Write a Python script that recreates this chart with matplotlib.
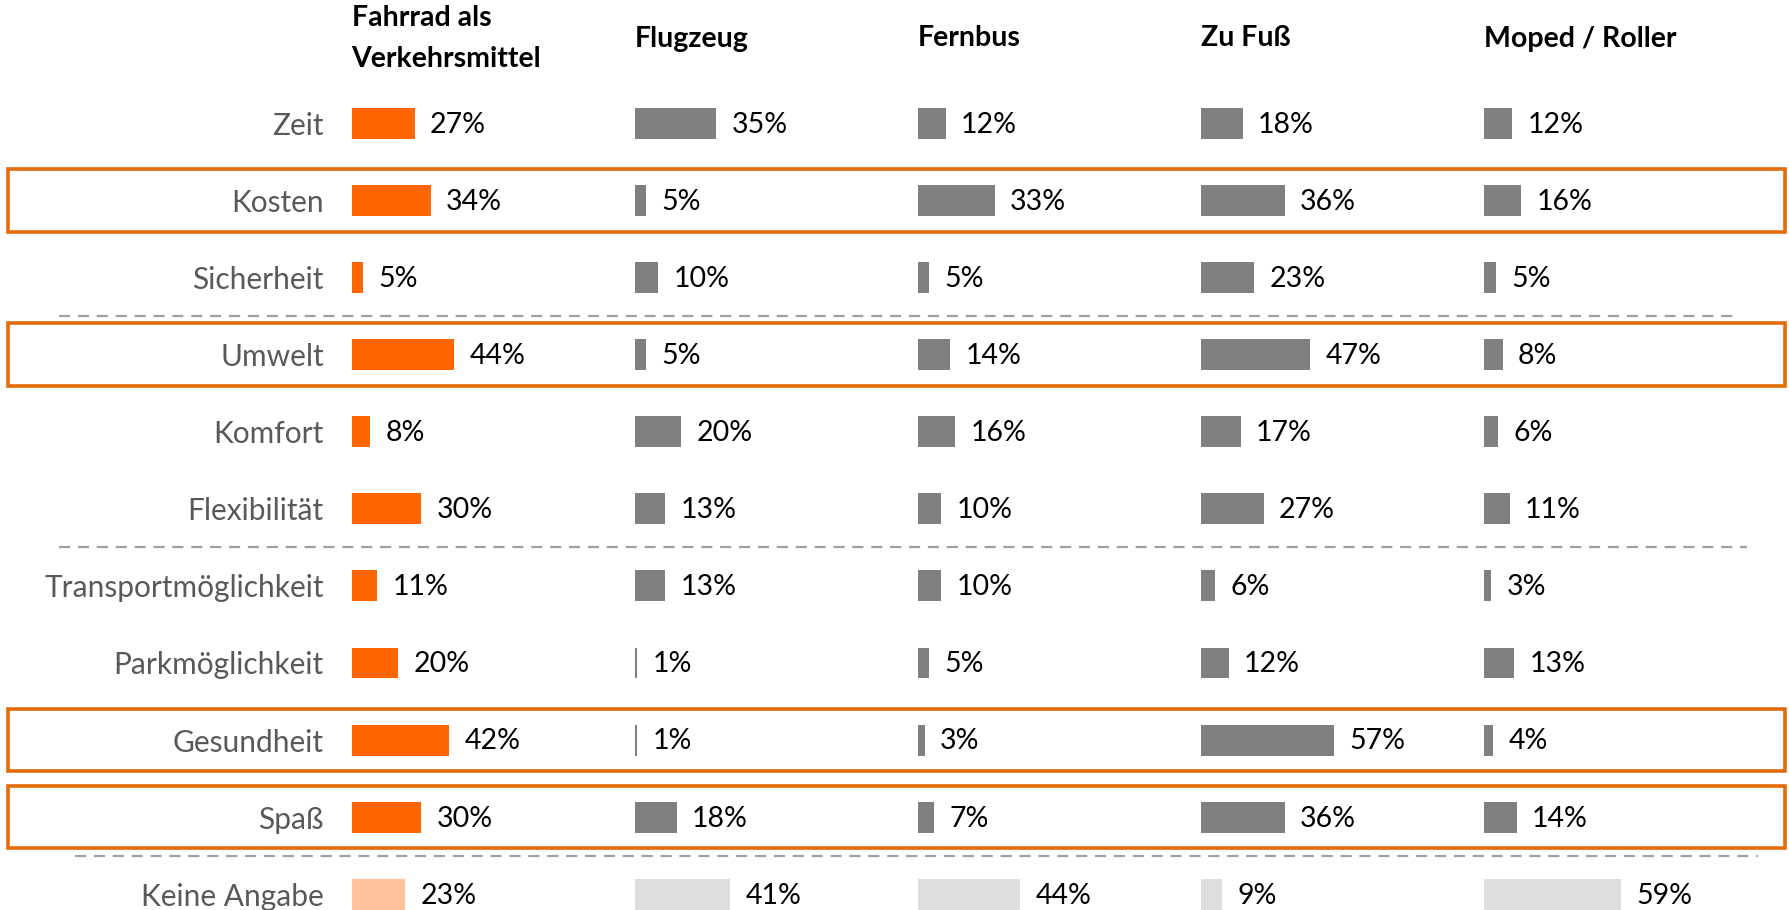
import numpy as np
import matplotlib.pyplot as plt
from matplotlib.transforms import blended_transform_factory
from matplotlib.patches import Rectangle

plt.rcParams['font.family'] = ['Lato', 'DejaVu Sans']

# data
rows = ['Zeit', 'Kosten', 'Sicherheit', 'Umwelt', 'Komfort', 'Flexibilität',
        'Transportmöglichkeit', 'Parkmöglichkeit', 'Gesundheit', 'Spaß', 'Keine Angabe']
columns = ['Fahrrad als\nVerkehrsmittel', 'Flugzeug', 'Fernbus', 'Zu Fuß', 'Moped / Roller']
fahrrad = [27, 34, 5, 44, 8, 30, 11, 20, 42, 30, 23]
flugzeug = [35, 5, 10, 5, 20, 13, 13, 1, 1, 18, 41]
fernbus = [12, 33, 5, 14, 16, 10, 10, 5, 3, 7, 44]
zufuss = [18, 36, 23, 47, 17, 27, 6, 12, 57, 36, 9]
moped = [12, 16, 5, 8, 6, 11, 3, 13, 4, 14, 59]
values = [fahrrad, flugzeug, fernbus, zufuss, moped]
highlight = ['Kosten', 'Umwelt', 'Gesundheit', 'Spaß']
separators_after = ['Sicherheit', 'Flexibilität', 'Spaß']

ORANGE = '#FF6600'
ORANGE_LIGHT = '#FFC299'
GRAY = '#808080'
GRAY_LIGHT = '#DDDEDD'
BOX = '#E36C09'

W, H = 1790, 910
fig = plt.figure(figsize=(W / 100, H / 100), dpi=100)

n = len(rows)
y0, dy = 123.3, 77.1
top_px = y0 - dy / 2
bot_px = top_px + n * dy
fs_lab, fs_val, fs_head = 21.5, 20.5, 20.5

axes = []
for k, (name, vals) in enumerate(zip(columns, values)):
    left = (351.6 + 283.1 * k) / W
    ax = fig.add_axes([left, 1 - bot_px / H, 233 / W, n * dy / H])
    ax.patch.set_visible(False)
    axes.append(ax)
    colors = [ORANGE if k == 0 else GRAY] * (n - 1) + [ORANGE_LIGHT if k == 0 else GRAY_LIGHT]
    ax.barh(np.arange(n), vals, height=0.4, color=colors)
    ax.set_xlim(0, 100)
    ax.set_ylim(n - 0.5, -0.5)
    for i, v in enumerate(vals):
        ax.annotate(f'{v}%', (v, i), xytext=(11, -1), textcoords='offset points',
                    va='center', ha='left', fontsize=fs_val, color='black',
                    annotation_clip=False)
    for s in ax.spines.values():
        s.set_visible(False)
    ax.set_xticks([])
    ax.set_yticks([])
    tr = blended_transform_factory(ax.transAxes, fig.transFigure)
    ax.text(0, 1 - 38.5 / H, name, transform=tr, ha='left', va='center',
            fontsize=fs_head, fontweight='bold', linespacing=1.75)

ax0 = axes[0]
ax0.set_yticks(np.arange(n))
ax0.set_yticklabels(rows, fontsize=fs_lab, color='#595959')
ax0.tick_params(axis='y', length=0, pad=20)

bt = blended_transform_factory(fig.transFigure, ax0.transData)
for r in highlight:
    i = rows.index(r)
    ax0.add_patch(Rectangle((8 / W, i - 0.405), (1785 - 8) / W, 0.81, transform=bt,
                            fill=False, ec=BOX, lw=2.6, clip_on=False))

sep_x = [(59, 1735), (59, 1747), (75, 1758)]
for r, (xa, xb) in zip(separators_after, sep_x):
    i = rows.index(r) + 0.5
    ax0.plot([xa / W, xb / W], [i, i], transform=bt, color='#A0A0A0', lw=1.6,
             ls=(0, (5, 3.5)), clip_on=False)

fig.savefig('out.png', dpi=100)
